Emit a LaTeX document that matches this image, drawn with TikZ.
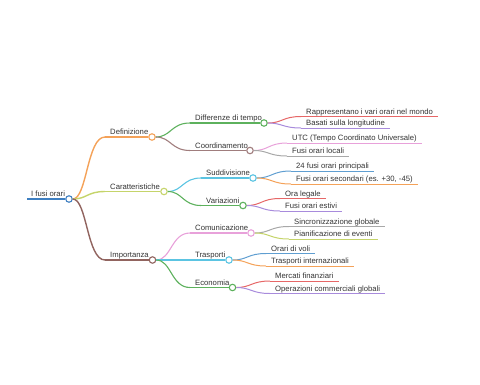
\documentclass[tikz,border=0pt]{standalone}
\usepackage{fontspec}
\setmainfont{Liberation Sans}
\usetikzlibrary{calc}
\definecolor{txt}{HTML}{333333}
\definecolor{cRoot}{HTML}{3E7FC1}
\definecolor{cOrange}{HTML}{F4A259}
\definecolor{cLime}{HTML}{C5D46A}
\definecolor{cBrown}{HTML}{91645F}
\definecolor{cGreen}{HTML}{5DB15D}
\definecolor{cMauve}{HTML}{A07D7D}
\definecolor{cCyan}{HTML}{5BC4E2}
\definecolor{cPink}{HTML}{E8A1DA}
\definecolor{cRed}{HTML}{E66767}
\definecolor{cPurple}{HTML}{A88BDC}
\definecolor{cGrey}{HTML}{A8A8A8}
\definecolor{cBlue}{HTML}{5F9ED1}
\newcommand\mmlink[3]{%
  \draw[#3] let \p1=(#1), \p2=(#2) in (#1) .. controls ({0.5*\x1+0.5*\x2},\y1) and ({0.5*\x1+0.5*\x2},\y2) .. (#2);}
\newcommand\mminner[8]{% name, parent, sx, y, cx, color, width, text
  \node[dot=#6] (#1) at (#5,#4) {};
  \coordinate (#1s) at (#3,#4);
  \node[lbl] (#1t) at (#1s) {#8};
  \mmlink{#2}{#1s}{#6,line width=#7}
  \draw[#6,line width=#7] (#1s) -- (#1);
}
\newcommand\mmleaf[6]{% name, parent, sx, y, color, text
  \coordinate (#1s) at (#3,#4);
  \node[lbl] (#1t) at (#1s) {#6};
  \mmlink{#2}{#1s}{#5,line width=1pt}
  \draw[#5,line width=1pt] (#1s) -- (#1s -| #1t.east);
}
\begin{document}
\begin{tikzpicture}[x=1pt,y=-1pt,
  lbl/.style={anchor=base west, inner xsep=5pt, inner ysep=0pt, yshift=2.5pt,
    font=\fontsize{7.7}{9}\selectfont, text=txt},
  dot/.style={circle, draw=#1, fill=white, line width=1.1pt, minimum size=6.5pt, inner sep=0pt}]
\useasboundingbox (0,0) rectangle (480,384);
% root
\node[dot=cRoot] (R) at (69,199) {};
\coordinate (Rs) at (27,199);
\node[lbl, inner xsep=4pt] (Rt) at (Rs) {I fusi orari};
\draw[cRoot, line width=2pt] (Rs) -- (R);
% level 1
\mminner{D}{R}{105}{137}{152}{cOrange}{1.4pt}{Definizione}
\mminner{C}{R}{105}{191.5}{164}{cLime}{1.4pt}{Caratteristiche}
\mminner{I}{R}{105}{260}{152.5}{cBrown}{1.4pt}{Importanza}
% level 2
\mminner{DD}{D}{190}{123}{264}{cGreen}{1.1pt}{Differenze di tempo}
\mminner{DC}{D}{190}{150.5}{250}{cMauve}{1.1pt}{Coordinamento}
\mminner{CS}{C}{201}{178}{253}{cCyan}{1.1pt}{Suddivisione}
\mminner{CV}{C}{201}{205.5}{243}{cGreen}{1.1pt}{Variazioni}
\mminner{IC}{I}{190}{233}{251}{cPink}{1.1pt}{Comunicazione}
\mminner{IT}{I}{190}{260}{229}{cCyan}{1.1pt}{Trasporti}
\mminner{IE}{I}{190}{287.5}{232.5}{cGreen}{1.1pt}{Economia}
% leaves
\mmleaf{L1}{DD}{301}{116.5}{cRed}{Rappresentano i vari orari nel mondo}
\mmleaf{L2}{DD}{301}{128}{cPurple}{Basati sulla longitudine}
\mmleaf{L3}{DC}{287}{143}{cPink}{UTC (Tempo Coordinato Universale)}
\mmleaf{L4}{DC}{287}{156}{cGrey}{Fusi orari locali}
\mmleaf{L5}{CS}{291}{171}{cBlue}{24 fusi orari principali}
\mmleaf{L6}{CS}{291}{184}{cOrange}{Fusi orari secondari (es. +30, -45)}
\mmleaf{L7}{CV}{280}{198.5}{cRed}{Ora legale}
\mmleaf{L8}{CV}{280}{211}{cPurple}{Fusi orari estivi}
\mmleaf{L9}{IC}{289}{226.5}{cGrey}{Sincronizzazione globale}
\mmleaf{L10}{IC}{289}{239}{cLime}{Pianificazione di eventi}
\mmleaf{L11}{IT}{266}{253.5}{cBlue}{Orari di voli}
\mmleaf{L12}{IT}{266}{266}{cOrange}{Trasporti internazionali}
\mmleaf{L13}{IE}{270}{281}{cRed}{Mercati finanziari}
\mmleaf{L14}{IE}{270}{293.5}{cPurple}{Operazioni commerciali globali}
\end{tikzpicture}
\end{document}
